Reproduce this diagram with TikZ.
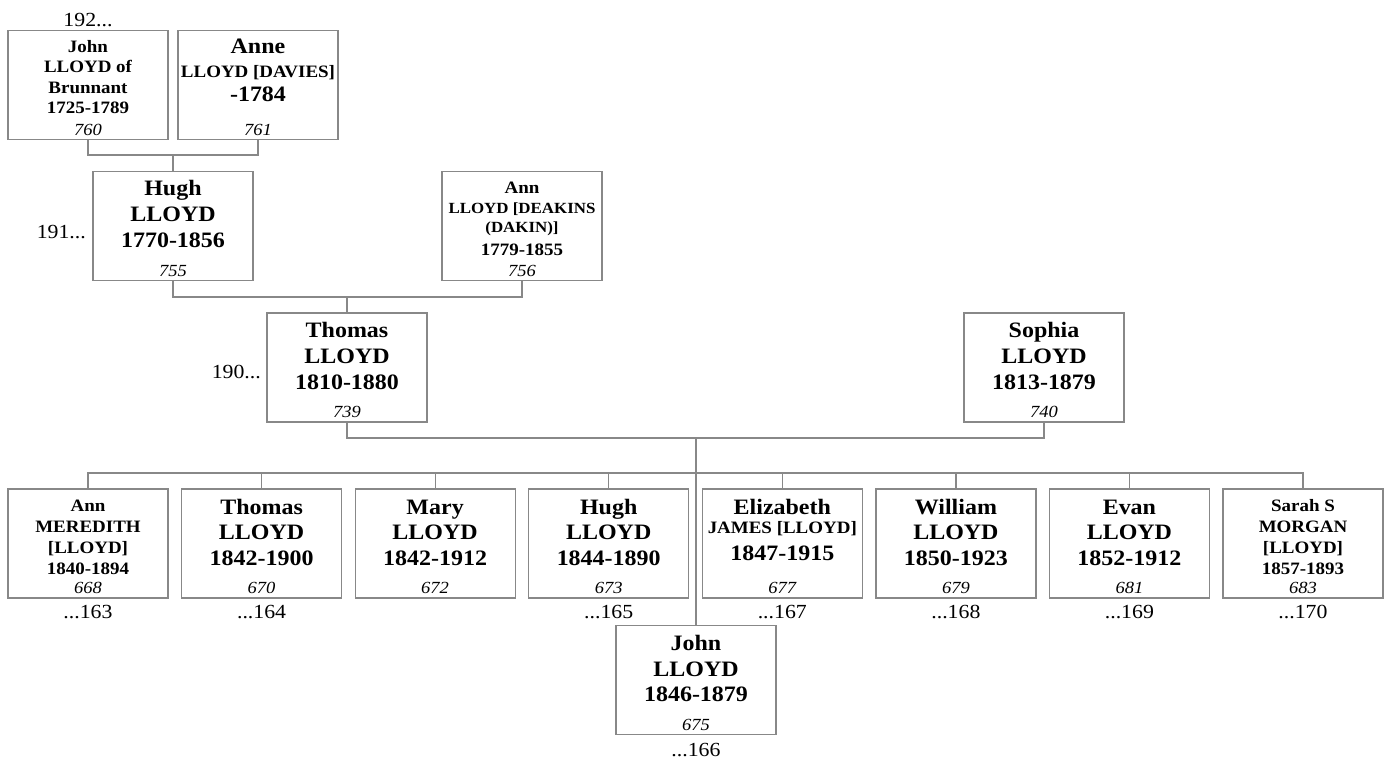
\documentclass[tikz,border=0pt]{standalone}
\usepackage{fontspec}
\setmainfont{Liberation Serif}[FakeStretch=1.09]
\definecolor{lg}{HTML}{888888}
\newcommand\fbig{\fontsize{22}{25.5}\selectfont}
\newcommand\fmed{\fontsize{17.4}{20.5}\selectfont}
\newcommand\fsml{\fontsize{15.5}{18}\selectfont}
% #1 first baseline offset, #2 baselineskip, #3 lines, #4 number
\newcommand\famcell[4]{\vbox to 109pt{\hsize=160pt\parindent=0pt\parskip=0pt%
  \lineskiplimit=-1000pt\lineskip=0pt\centering\bfseries\baselineskip=#2\relax
  \leavevmode\rule{0pt}{#1}#3\par\vfill
  {\mdseries\itshape\fontsize{17}{17}\selectfont #4\par}\vskip 4pt}}
\begin{document}
\begin{tikzpicture}[x=1pt,y=-1pt,
  pb/.style={draw=lg,line width=1.2pt,inner sep=0pt,outer sep=0pt,fill=white},
  conn/.style={draw=lg,line width=1.2pt},
  lab/.style={inner sep=0pt,font=\fontsize{20}{20}\selectfont}]
\useasboundingbox (0,0) rectangle (1387,762);
% generation 1
\node[pb] (p760) at (88,85) {\famcell{22pt}{20.5pt}{{\fmed John}\\{\fmed LLOYD of}\\{\fmed Brunnant}\\{\fmed 1725-1789}}{760}};
\node[pb] (p761) at (258,85) {\famcell{23pt}{24pt}{{\fbig Anne}\\{\fmed LLOYD [DAVIES]}\\{\fbig -1784}}{761}};
% generation 2
\node[pb] (p755) at (173,226) {\famcell{24pt}{26pt}{{\fbig Hugh}\\{\fbig LLOYD}\\{\fbig 1770-1856}}{755}};
\node[pb] (p756) at (522,226) {\famcell{22pt}{19.5pt}{{\fmed Ann}\\{\fsml LLOYD [DEAKINS}\\{\fsml (DAKIN)]}\\[3.5pt]{\fmed 1779-1855}}{756}};
% generation 3
\node[pb] (p739) at (347,367.5) {\famcell{24pt}{26pt}{{\fbig Thomas}\\{\fbig LLOYD}\\{\fbig 1810-1880}}{739}};
\node[pb] (p740) at (1044,367.5) {\famcell{24pt}{26pt}{{\fbig Sophia}\\{\fbig LLOYD}\\{\fbig 1813-1879}}{740}};
% children
\node[pb] (p668) at (88,543.5) {\famcell{22pt}{21pt}{{\fmed Ann}\\{\fmed MEREDITH}\\{\fmed [LLOYD]}\\{\fmed 1840-1894}}{668}};
\node[pb] (p670) at (261.6,543.5) {\famcell{25pt}{25.5pt}{{\fbig Thomas}\\{\fbig LLOYD}\\{\fbig 1842-1900}}{670}};
\node[pb] (p672) at (435.1,543.5) {\famcell{25pt}{25.5pt}{{\fbig Mary}\\{\fbig LLOYD}\\{\fbig 1842-1912}}{672}};
\node[pb] (p673) at (608.7,543.5) {\famcell{25pt}{25.5pt}{{\fbig Hugh}\\{\fbig LLOYD}\\{\fbig 1844-1890}}{673}};
\node[pb] (p677) at (782.3,543.5) {\famcell{25pt}{19pt}{{\fbig Elizabeth}\\{\fmed JAMES [LLOYD]}\\[8pt]{\fbig 1847-1915}}{677}};
\node[pb] (p679) at (955.9,543.5) {\famcell{25pt}{25.5pt}{{\fbig William}\\{\fbig LLOYD}\\{\fbig 1850-1923}}{679}};
\node[pb] (p681) at (1129.4,543.5) {\famcell{25pt}{25.5pt}{{\fbig Evan}\\{\fbig LLOYD}\\{\fbig 1852-1912}}{681}};
\node[pb] (p683) at (1303,543.5) {\famcell{22pt}{21pt}{{\fmed Sarah S}\\{\fmed MORGAN}\\{\fmed [LLOYD]}\\{\fmed 1857-1893}}{683}};
\node[pb] (p675) at (696,680) {\famcell{25pt}{25.5pt}{{\fbig John}\\{\fbig LLOYD}\\{\fbig 1846-1879}}{675}};
% labels
\node[lab] (u192) at (88,20) {192...};
\node[lab,anchor=east] (u191) at (86,232) {191...};
\node[lab,anchor=east] (u190) at (261,372) {190...};
\node[lab] (d163) at (88,612) {...163};
\node[lab] (d164) at (261.6,612) {...164};
\node[lab] (d165) at (608.7,612) {...165};
\node[lab] (d167) at (782.3,612) {...167};
\node[lab] (d168) at (955.9,612) {...168};
\node[lab] (d169) at (1129.4,612) {...169};
\node[lab] (d170) at (1303,612) {...170};
\node[lab] (d166) at (696,750) {...166};
% connectors
\coordinate (f1) at (173,155);
\draw[conn] (p760.south) |- (f1) -| (p761.south);
\draw[conn] (f1) -- (p755.north);
\coordinate (f2) at (347,297);
\draw[conn] (p755.south) |- (f2) -| (p756.south);
\draw[conn] (f2) -- (p739.north);
\coordinate (f3) at (696,438);
\draw[conn] (p739.south) |- (f3) -| (p740.south);
\draw[conn] (f3) -- (p675.north);
\coordinate (bar) at (696,473);
\draw[conn] (p668.north) |- (bar) -| (p683.north);
\foreach \n in {p670,p672,p673,p677,p679,p681}
  \draw[conn] (\n.north) -- (\n.north |- bar);
\end{tikzpicture}
\end{document}
